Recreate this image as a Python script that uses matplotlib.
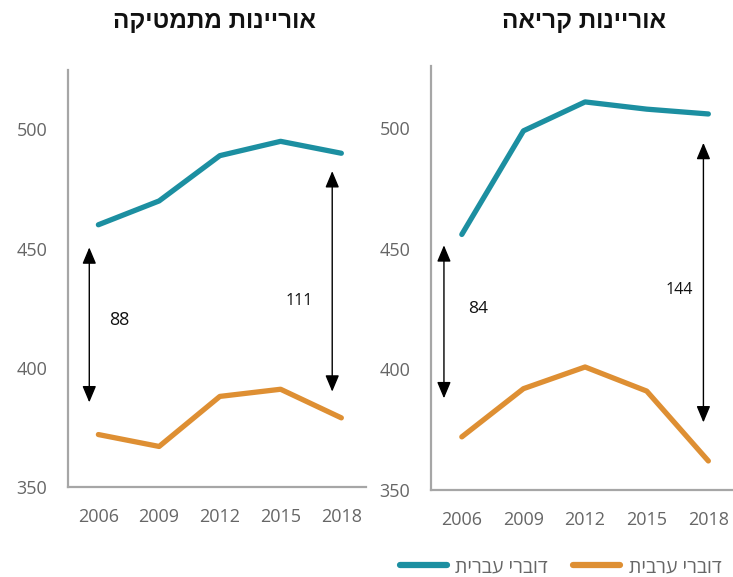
import matplotlib
matplotlib.use("Agg")
import matplotlib.pyplot as plt
from matplotlib.lines import Line2D

plt.rcParams['font.family'] = ['Open Sans', 'DejaVu Sans']

years = ['2006', '2009', '2012', '2015', '2018']

# math literacy
math_hebrew = [460, 470, 489, 495, 490]
math_arabic = [372, 367, 388, 391, 379]

# reading literacy
read_hebrew = [456, 499, 511, 508, 506]
read_arabic = [372, 392, 401, 391, 362]

titles = ['אוריינות מתמטיקה', 'אוריינות קריאה']
legend_labels = ['דוברי עברית', 'דוברי ערבית']

# gap annotations: (x, y top, y bottom, label, label x, label y, label size)
math_gaps = [(-0.15, 450.5, 385.5, '88', 0.35, 420, 13),
             (3.85, 482.5, 390, '111', 3.3, 428, 11.5)]
read_gaps = [(-0.29, 451.5, 388, '84', 0.26, 425, 12.5),
             (3.92, 494, 378, '144', 3.53, 433, 11.5)]

TEAL = '#1c8fa1'
ORANGE = '#de8f33'
GRAY = '#a6a6a6'
TXT = '#666666'


def heb(s):
    # matplotlib has no bidi support, draw in visual order
    return s[::-1]


def panel(ax, hebrew, arabic, gaps, title, ylim_top, title_x, fig):
    x = list(range(len(years)))
    ax.plot(x, hebrew, color=TEAL, lw=3.8, solid_capstyle='round', solid_joinstyle='round')
    ax.plot(x, arabic, color=ORANGE, lw=3.8, solid_capstyle='round', solid_joinstyle='round')

    for gx, top, bot, lab, lx, ly, ls in gaps:
        ax.annotate('', xy=(gx, top), xytext=(gx, bot),
                    arrowprops=dict(arrowstyle='<|-|>,head_length=1.0,head_width=0.42',
                                    color='black', lw=1, shrinkA=0, shrinkB=0))
        ax.text(lx, ly, lab, fontsize=ls, ha='center', va='center', color='#111111')

    ax.set_xlim(-0.5, 4.4)
    ax.set_ylim(350, ylim_top)
    ax.set_xticks(x)
    ax.set_xticklabels(years)
    ax.set_yticks([350, 400, 450, 500])
    ax.tick_params(length=0, labelsize=13, labelcolor=TXT)
    ax.tick_params(axis='y', pad=15)
    ax.tick_params(axis='x', pad=15)
    for s in ['top', 'right']:
        ax.spines[s].set_visible(False)
    for s in ['left', 'bottom']:
        ax.spines[s].set_color(GRAY)
        ax.spines[s].set_linewidth(1.6)

    fig.text(title_x, 0.962, heb(title), ha='center', va='center', fontsize=17.5,
             fontweight='heavy', family=['Liberation Sans', 'DejaVu Sans'], color='#111111')


fig = plt.figure(figsize=(7.33, 5.77), dpi=100)
ax1 = fig.add_axes([0.0928, 0.156, 0.406, 0.723])
ax2 = fig.add_axes([0.588, 0.151, 0.412, 0.735])

panel(ax1, math_hebrew, math_arabic, math_gaps, titles[0], 525, 0.292, fig)
panel(ax2, read_hebrew, read_arabic, read_gaps, titles[1], 526, 0.797, fig)

handles = [Line2D([], [], color=TEAL, lw=4.5, solid_capstyle='round'),
           Line2D([], [], color=ORANGE, lw=4.5, solid_capstyle='round')]
leg = fig.legend(handles, [heb(l) for l in legend_labels], loc='center',
                 bbox_to_anchor=(0.765, 0.017), ncol=2, frameon=False,
                 fontsize=14, handlelength=2.4, handletextpad=0.46, columnspacing=1.3,
                 borderpad=0)
for t in leg.get_texts():
    t.set_color(TXT)

fig.savefig('out.png', dpi=100)
